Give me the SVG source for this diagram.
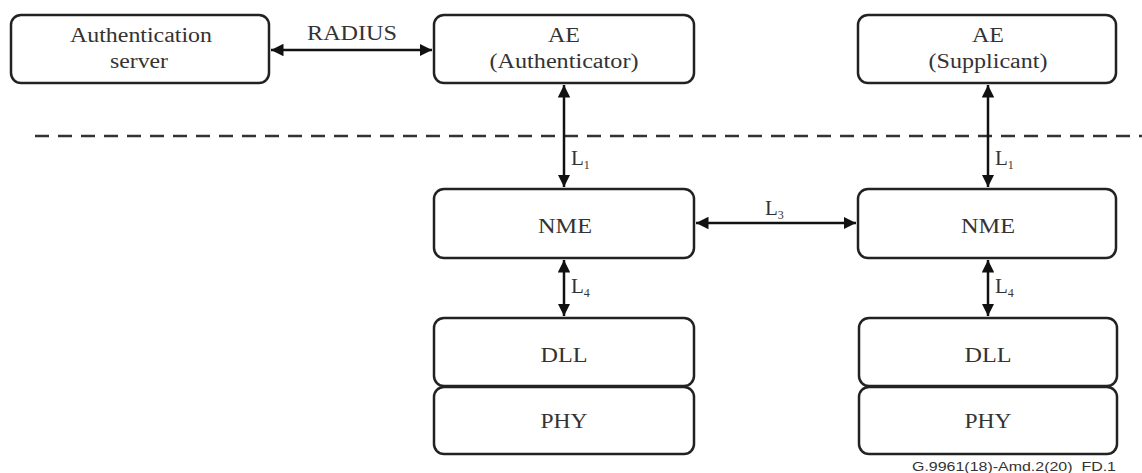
<svg xmlns="http://www.w3.org/2000/svg" width="1142" height="473" viewBox="0 0 1142 473">
<style>
.box{fill:#fff;stroke:#222;stroke-width:2.5}
.t{font-family:"Liberation Serif","DejaVu Serif","Times New Roman",serif;font-size:20px;fill:#333;text-anchor:middle}
.l{font-family:"Liberation Serif","DejaVu Serif","Times New Roman",serif;font-size:21px;fill:#333}
.sub{font-size:12px}
.c{stroke:#111;stroke-width:2.5;fill:none;marker-start:url(#ah);marker-end:url(#ah)}
.fn{font-family:"Liberation Sans",Arial,sans-serif;font-size:12px;fill:#333}
</style>
<defs>
<marker id="ah" viewBox="0 0 10 10" refX="10" refY="5" markerWidth="5" markerHeight="5" orient="auto-start-reverse" markerUnits="strokeWidth">
<path d="M0,0 L10,5 L0,10 z" fill="#111"/>
</marker>
</defs>
<rect width="1142" height="473" fill="#fff"/>
<line x1="35" y1="136" x2="1142" y2="136" stroke="#333" stroke-width="2.5" stroke-dasharray="14,9"/>
<g id="connectors">
<line class="c" x1="271" y1="50" x2="432" y2="50"/>
<line class="c" x1="564" y1="85" x2="564" y2="187"/>
<line class="c" x1="988" y1="85" x2="988" y2="187"/>
<line class="c" x1="696" y1="223" x2="856" y2="223"/>
<line class="c" x1="564" y1="260" x2="564" y2="316"/>
<line class="c" x1="988" y1="260" x2="988" y2="316"/>
<text class="t" x="352" y="40" textLength="90" lengthAdjust="spacingAndGlyphs">RADIUS</text>
<text class="l" x="571" y="165">L<tspan class="sub" dy="4">1</tspan></text>
<text class="l" x="995" y="165">L<tspan class="sub" dy="4">1</tspan></text>
<text class="l" x="765" y="215">L<tspan class="sub" dy="4">3</tspan></text>
<text class="l" x="571" y="293">L<tspan class="sub" dy="4">4</tspan></text>
<text class="l" x="995" y="293">L<tspan class="sub" dy="4">4</tspan></text>
</g>
<g id="auth-server"><rect class="box" x="11" y="15" width="258" height="68" rx="10"/><text class="t" x="141" y="42" textLength="142" lengthAdjust="spacingAndGlyphs">Authentication</text><text class="t" x="139" y="68" textLength="58" lengthAdjust="spacingAndGlyphs">server</text></g>
<g id="ae-authenticator"><rect class="box" x="434" y="15" width="260" height="68" rx="10"/><text class="t" x="564" y="42" textLength="32" lengthAdjust="spacingAndGlyphs">AE</text><text class="t" x="564" y="68" textLength="149" lengthAdjust="spacingAndGlyphs">(Authenticator)</text></g>
<g id="ae-supplicant"><rect class="box" x="858" y="15" width="258" height="68" rx="10"/><text class="t" x="988" y="42" textLength="32" lengthAdjust="spacingAndGlyphs">AE</text><text class="t" x="988" y="68" textLength="119" lengthAdjust="spacingAndGlyphs">(Supplicant)</text></g>
<g id="nme-left"><rect class="box" x="434" y="189" width="260" height="69" rx="10"/><text class="t" x="565" y="233" textLength="54" lengthAdjust="spacingAndGlyphs">NME</text></g>
<g id="nme-right"><rect class="box" x="858" y="189" width="258" height="69" rx="10"/><text class="t" x="988" y="233" textLength="54" lengthAdjust="spacingAndGlyphs">NME</text></g>
<g id="dll-left"><rect class="box" x="434" y="318" width="260" height="68" rx="10"/><text class="t" x="564" y="362" textLength="47" lengthAdjust="spacingAndGlyphs">DLL</text></g>
<g id="phy-left"><rect class="box" x="434" y="387" width="260" height="67" rx="10"/><text class="t" x="564" y="428" textLength="47" lengthAdjust="spacingAndGlyphs">PHY</text></g>
<g id="dll-right"><rect class="box" x="859" y="318" width="258" height="68" rx="10"/><text class="t" x="988" y="362" textLength="47" lengthAdjust="spacingAndGlyphs">DLL</text></g>
<g id="phy-right"><rect class="box" x="859" y="387" width="258" height="67" rx="10"/><text class="t" x="988" y="428" textLength="47" lengthAdjust="spacingAndGlyphs">PHY</text></g>
<text class="fn" x="912" y="471" textLength="204" lengthAdjust="spacingAndGlyphs">G.9961(18)-Amd.2(20)_FD.1</text>
</svg>
